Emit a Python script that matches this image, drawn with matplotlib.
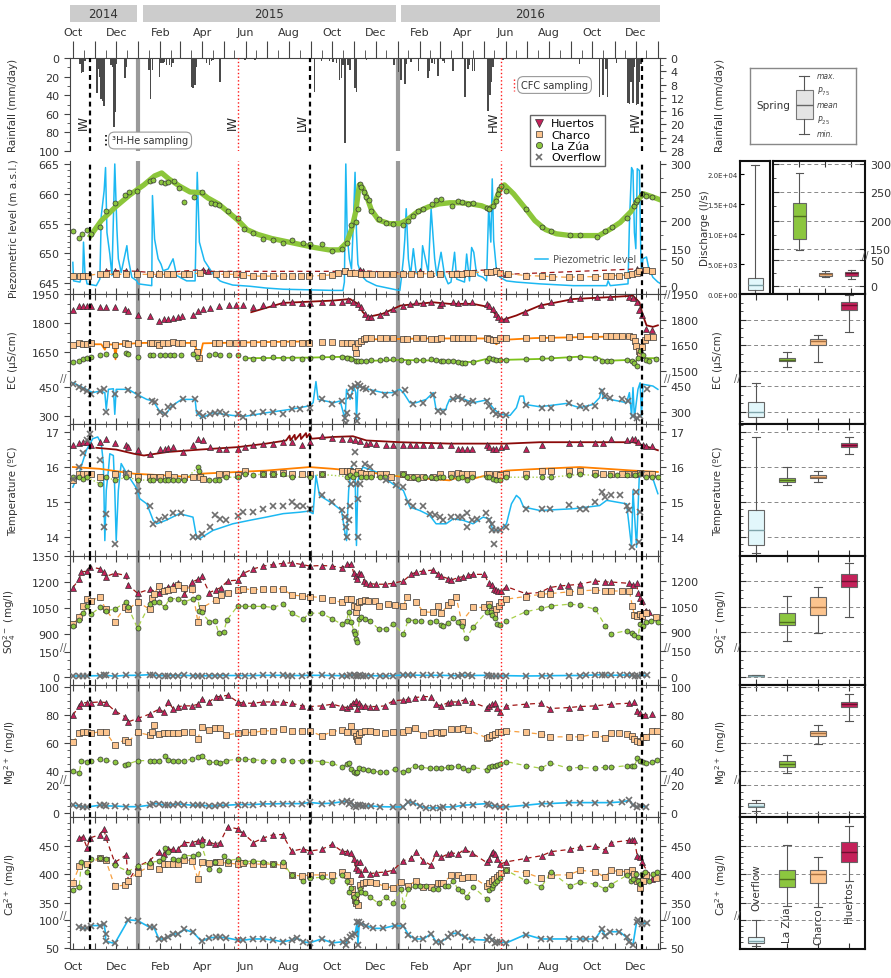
import numpy as np
import pandas as pd
import matplotlib
matplotlib.use('Agg')
import matplotlib.pyplot as plt
import matplotlib.dates as mdates
import matplotlib.transforms as mtransforms
from matplotlib.ticker import FixedLocator, FuncFormatter, NullFormatter
from matplotlib.lines import Line2D

plt.rcParams['font.family'] = ['DejaVu Sans']
plt.rcParams['font.size'] = 8

W, H = 891, 979
t0 = pd.Timestamp('2014-10-01')


def d(x):
    return t0 + pd.to_timedelta(x, unit='D')


# ---------------- data (day = days since 2014-10-01) ----------------
black_days = [24, 333, 800]
red_days = [232, 602]
year_days = [92, 457]
years = [('2014', -4, 90), ('2015', 98, 454), ('2016', 461, 826)]

rain = [(1, 1), (10, 6), (12, 16), (14, 15), (17, 3), (34, 38), (36, 12), (38, 20), (40, 44), (42, 46), (44, 52),
        (54, 8), (56, 10), (58, 74), (59, 58), (61, 6), (73, 22), (75, 10), (91, 1), (98, 1), (107, 13), (109, 44),
        (112, 13), (122, 20), (124, 5), (127, 5), (129, 4), (132, 7), (136, 8), (139, 10), (141, 5), (150, 1),
        (167, 31), (169, 32), (172, 29), (174, 10), (188, 5), (192, 7), (195, 3), (197, 2), (207, 26), (242, 2),
        (256, 2), (312, 1), (340, 37), (350, 3), (361, 3), (366, 4), (371, 5), (375, 24), (378, 22), (380, 8),
        (383, 91), (387, 8), (390, 13), (397, 32), (399, 37), (406, 1), (413, 2), (427, 1), (439, 1), (452, 8),
        (458, 15), (462, 24), (467, 28), (469, 6), (476, 4), (486, 14), (500, 22), (502, 14), (505, 5), (509, 6),
        (514, 19), (521, 3), (523, 5), (535, 14), (552, 42), (556, 12), (558, 8), (562, 14), (565, 14), (584, 57),
        (587, 40), (589, 26), (591, 10), (605, 2), (713, 6), (741, 42), (746, 40), (750, 12), (752, 42), (765, 5),
        (781, 48), (783, 49), (785, 26), (788, 48), (790, 10), (793, 51), (795, 49), (797, 26), (799, 6), (807, 1)]

# piezometric level (m a.s.l.)
zua_piezo = [(0, 653.7), (9, 652.6), (13, 653.2), (20, 654.0), (25, 653.2), (38, 654.4), (47, 657.2), (59, 658.5),
             (74, 659.8), (79, 660.3), (90, 660.5), (109, 662.1), (113, 662.3), (124, 661.9), (129, 661.8),
             (134, 661.9), (142, 662.2), (149, 660.9), (157, 658.7), (171, 659.4), (181, 660.3), (194, 658.4),
             (200, 658.3), (206, 658.2), (218, 657.1), (232, 655.9), (241, 654.1), (254, 653.4), (268, 652.5),
             (282, 652.3), (295, 651.8), (308, 652.3), (324, 651.7), (333, 651.6), (350, 651.6), (365, 650.4),
             (378, 650.8), (385, 651.8), (392, 654.7), (398, 655.3), (401, 657.5), (404, 661.6), (406, 661.1),
             (409, 660.3), (413, 659.4), (417, 659.0), (420, 657.2), (430, 655.8), (440, 655.1), (450, 654.9),
             (465, 654.7), (471, 655.5), (479, 656.2), (486, 657.2), (493, 657.5), (505, 658.3), (511, 658.9),
             (518, 659.1), (534, 658.0), (542, 658.8), (548, 658.7), (556, 658.3), (563, 658.5), (582, 657.7),
             (586, 657.4), (591, 658.0), (595, 658.8), (598, 660.0), (600, 660.8), (603, 661.3), (610, 660.5),
             (637, 657.5), (660, 654.4), (673, 653.8), (699, 653.1), (714, 653.1), (737, 652.8), (749, 653.8),
             (759, 654.5), (779, 655.9), (790, 658.0), (792, 658.6), (794, 659.0), (800, 660.0), (807, 659.6),
             (815, 659.4)]
zua_piezo_line = [(25, 653.0), (40, 655.5), (60, 657.8), (80, 659.8), (100, 661.5), (115, 663.0), (125, 663.5),
                  (135, 662.5), (150, 661.3), (165, 660.3), (180, 660.2), (190, 659.3), (205, 658.3), (220, 656.8),
                  (232, 655.6), (245, 654.0), (260, 653.2), (280, 652.5), (300, 652.0), (320, 651.5), (340, 651.0),
                  (360, 650.6), (375, 650.6), (385, 651.8), (392, 654.0), (398, 657.0), (403, 661.5), (408, 661.0),
                  (415, 659.0), (420, 657.3), (430, 655.6), (445, 655.0), (460, 655.0), (470, 655.6), (485, 657.0),
                  (500, 657.8), (515, 658.3), (530, 658.5), (545, 658.5), (560, 658.3), (575, 658.0), (585, 657.5),
                  (592, 658.0), (600, 660.5), (607, 661.5), (620, 660.0), (635, 657.8), (650, 655.5), (665, 654.0),
                  (680, 653.3), (700, 653.0), (720, 653.0), (740, 653.0), (755, 654.0), (770, 655.2), (785, 657.0),
                  (795, 659.0), (803, 660.0), (815, 659.5), (826, 659.0)]
hu_piezo = [(46, 647.1), (59, 647.1), (75, 647.1), (90, 647.0), (120, 646.7), (183, 647.3), (190, 647.0),
            (385, 647.0), (404, 647.3), (408, 647.1), (465, 646.7), (488, 647.0), (504, 646.8), (595, 647.3),
            (610, 646.5), (793, 647.4), (802, 647.3)]
ch_piezo = [(0, 646.3), (10, 646.2), (14, 646.3), (21, 646.3), (38, 646.6), (47, 646.5), (61, 646.5), (75, 646.5),
            (90, 646.5), (108, 646.5), (121, 646.5), (132, 646.5), (141, 646.5), (157, 646.6), (164, 646.6),
            (179, 646.7), (202, 646.5), (216, 646.5), (230, 646.5), (239, 646.4), (254, 646.2), (268, 646.2),
            (282, 646.2), (295, 646.2), (308, 646.2), (321, 646.2), (332, 646.2), (350, 646.3), (364, 646.4),
            (373, 646.8), (383, 647.0), (390, 646.8), (397, 646.7), (406, 646.6), (413, 646.5), (421, 646.5),
            (432, 646.5), (441, 646.5), (450, 646.5), (465, 646.6), (476, 646.6), (488, 646.6), (502, 646.6),
            (516, 646.6), (533, 646.6), (540, 646.6), (547, 646.6), (554, 646.7), (561, 646.8), (582, 646.9),
            (588, 646.9), (595, 647.0), (601, 646.8), (612, 646.6), (637, 646.3), (660, 646.2), (674, 646.1),
            (698, 646.0), (713, 646.1), (735, 646.1), (750, 646.2), (757, 646.3), (769, 646.3), (779, 646.4),
            (786, 646.6), (793, 646.8), (797, 647.1), (807, 647.3), (815, 647.1)]
blue_piezo = [(0, 648.5), (1, 645.4), (10, 645.2), (14, 646.8), (15, 651.9), (17, 646.8), (20, 644.9), (33, 644.6),
              (38, 645.7), (40, 656.3), (44, 660.5), (46, 664.4), (48, 653.5), (52, 649.9), (55, 646.3), (59, 665.0),
              (62, 654.1), (64, 649.1), (68, 646.8), (76, 651.3), (78, 649.1), (83, 646.0), (90, 645.4), (92, 644.9),
              (111, 644.6), (112, 659.7), (115, 652.4), (120, 649.1), (124, 648.2), (127, 647.1), (134, 647.4),
              (141, 649.1), (146, 646.3), (160, 645.4), (172, 645.4), (175, 663.6), (178, 651.9), (185, 648.8),
              (197, 646.6), (207, 645.4), (211, 645.2), (225, 644.7), (249, 644.5), (272, 644.2), (296, 644.0),
              (333, 643.9), (366, 643.8), (380, 643.8), (382, 645.2), (384, 665.0), (386, 653.0), (389, 649.1),
              (392, 647.4), (395, 656.3), (397, 663.6), (399, 653.5), (401, 648.2), (406, 646.3), (413, 645.4),
              (427, 644.6), (455, 643.9), (460, 643.8), (462, 645.7), (465, 649.1), (467, 652.4), (469, 657.5),
              (472, 649.1), (475, 646.3), (479, 650.8), (483, 646.8), (490, 646.3), (492, 651.3), (500, 646.8),
              (504, 657.5), (509, 649.1), (512, 646.3), (518, 650.2), (523, 646.3), (528, 644.9), (532, 645.2),
              (537, 650.2), (540, 645.7), (551, 645.2), (554, 649.9), (558, 645.4), (561, 651.0), (564, 650.2),
              (567, 647.4), (570, 646.3), (577, 646.0), (582, 645.4), (585, 657.7), (588, 651.9), (590, 662.5),
              (592, 652.2), (596, 647.1), (601, 646.0), (610, 645.4), (624, 645.2), (657, 644.9), (704, 644.6),
              (751, 644.6), (753, 645.4), (756, 644.6), (781, 644.9), (783, 655.2), (786, 664.4), (788, 663.9),
              (790, 653.5), (792, 650.8), (794, 664.2), (797, 663.9), (799, 650.2), (800, 646.8), (802, 649.1),
              (807, 649.4), (810, 647.6), (816, 646.0), (823, 645.2), (826, 645.0)]

# EC (uS/cm)
hu_ec = [(0, 1865), (9, 1890), (14, 1890), (20, 1887), (26, 1887), (38, 1882), (46, 1882), (59, 1882), (73, 1870),
         (78, 1861), (91, 1839), (108, 1836), (121, 1810), (128, 1819), (134, 1822), (141, 1826), (148, 1831),
         (154, 1836), (169, 1843), (176, 1860), (183, 1873), (193, 1878), (205, 1887), (219, 1895), (230, 1894),
         (240, 1894), (254, 1882), (268, 1894), (282, 1899), (296, 1907), (309, 1911), (322, 1904), (333, 1904),
         (350, 1911), (365, 1911), (378, 1911), (387, 1919), (394, 1907), (401, 1899), (406, 1882), (411, 1848),
         (415, 1831), (420, 1831), (432, 1839), (441, 1856), (450, 1870), (465, 1890), (474, 1899), (483, 1907),
         (493, 1904), (504, 1911), (516, 1894), (519, 1904), (535, 1911), (542, 1904), (551, 1911), (561, 1911),
         (582, 1899), (586, 1890), (591, 1873), (595, 1848), (598, 1831), (602, 1819), (610, 1819), (636, 1856),
         (659, 1894), (673, 1907), (699, 1924), (714, 1928), (737, 1933), (756, 1933), (783, 1933), (788, 1928),
         (793, 1907), (797, 1865), (800, 1839), (807, 1771), (815, 1763)]
hu_ec_line = [(251, 1856), (296, 1904), (366, 1916), (390, 1924), (401, 1899), (408, 1856), (415, 1831),
              (436, 1848), (461, 1890), (507, 1907), (530, 1899), (563, 1899), (586, 1882), (596, 1839),
              (603, 1814), (624, 1839), (657, 1890), (704, 1924), (751, 1933), (788, 1941), (797, 1907),
              (802, 1839), (807, 1788), (816, 1780), (823, 1788)]
ch_ec = [(0, 1686), (9, 1694), (14, 1691), (20, 1689), (26, 1694), (46, 1689), (59, 1686), (73, 1694), (78, 1689),
         (91, 1698), (108, 1698), (112, 1694), (118, 1694), (121, 1686), (127, 1694), (134, 1699), (141, 1703),
         (148, 1694), (154, 1694), (169, 1698), (175, 1652), (178, 1621), (200, 1694), (206, 1694), (219, 1699),
         (230, 1698), (240, 1698), (254, 1698), (268, 1698), (282, 1699), (295, 1694), (309, 1699), (322, 1699),
         (332, 1699), (350, 1703), (364, 1703), (378, 1694), (385, 1694), (392, 1694), (397, 1677), (399, 1643),
         (401, 1694), (405, 1706), (409, 1716), (413, 1720), (420, 1720), (432, 1720), (441, 1720), (450, 1720),
         (465, 1716), (470, 1716), (483, 1723), (493, 1720), (504, 1716), (512, 1716), (518, 1723), (535, 1723),
         (542, 1723), (548, 1723), (556, 1720), (563, 1720), (582, 1720), (586, 1716), (591, 1711), (595, 1711),
         (601, 1720), (610, 1720), (637, 1723), (660, 1723), (673, 1723), (698, 1728), (713, 1733), (735, 1733),
         (750, 1733), (757, 1733), (764, 1733), (772, 1733), (783, 1733), (788, 1728), (791, 1706), (792, 1682),
         (796, 1655), (798, 1635), (800, 1677), (805, 1711), (808, 1728), (816, 1728)]
ch_ec_line = [(0, 1690), (40, 1690), (45, 1662), (48, 1690), (58, 1688), (60, 1612), (62, 1690), (100, 1697),
              (170, 1697), (175, 1655), (179, 1628), (183, 1695), (250, 1700), (333, 1705), (334, np.nan),
              (397, 1650), (402, 1700), (410, 1715), (500, 1720), (582, 1720), (590, 1705), (596, 1690),
              (602, 1712), (650, 1722), (760, 1730), (788, 1730), (792, 1690), (796, 1640), (798, 1630),
              (800, 1660), (803, 1700)]
zua_ec = [(0, 1597), (9, 1604), (14, 1614), (20, 1618), (26, 1626), (38, 1635), (46, 1638), (59, 1635), (75, 1646),
          (78, 1640), (91, 1623), (108, 1635), (113, 1632), (122, 1632), (129, 1632), (136, 1632), (143, 1635),
          (152, 1635), (169, 1638), (175, 1626), (192, 1632), (200, 1638), (207, 1635), (219, 1635), (232, 1635),
          (242, 1618), (254, 1614), (268, 1618), (282, 1623), (295, 1618), (309, 1618), (322, 1614), (333, 1618),
          (350, 1623), (364, 1626), (378, 1626), (385, 1621), (392, 1614), (398, 1601), (401, 1604), (406, 1604),
          (413, 1604), (420, 1609), (432, 1609), (441, 1612), (450, 1614), (462, 1609), (471, 1597), (483, 1609),
          (493, 1609), (504, 1614), (511, 1609), (518, 1604), (521, 1604), (528, 1601), (535, 1601), (542, 1597),
          (548, 1592), (551, 1592), (563, 1597), (582, 1604), (586, 1618), (591, 1614), (595, 1609), (601, 1609),
          (610, 1609), (637, 1614), (660, 1618), (673, 1618), (698, 1621), (713, 1626), (735, 1621), (744, 1604),
          (751, 1604), (757, 1604), (779, 1609), (786, 1604), (790, 1592), (793, 1580), (795, 1618), (798, 1655),
          (802, 1635), (807, 1609), (811, 1604), (821, 1614)]
zua_ec_line = [(247, 1618), (333, 1621), (390, 1626), (398, 1609), (404, 1601), (413, 1604), (460, 1609),
               (530, 1604), (563, 1597), (586, 1618), (603, 1609), (657, 1614), (714, 1626), (741, 1618),
               (746, 1604), (783, 1609), (790, 1584), (795, 1626), (800, 1635), (805, 1618), (823, 1618)]
ov_ec = [(0, 464), (9, 452), (14, 441), (20, 429), (26, 412), (38, 429), (44, 438), (47, 321), (59, 412), (78, 433),
         (91, 407), (112, 378), (115, 372), (122, 321), (129, 309), (134, 348), (141, 352), (155, 386), (172, 386),
         (178, 317), (183, 300), (193, 309), (200, 317), (207, 321), (216, 309), (232, 309), (239, 295), (254, 317),
         (268, 321), (282, 321), (295, 309), (308, 334), (319, 338), (333, 343), (350, 386), (365, 360), (378, 378),
         (383, 291), (384, 266), (386, 317), (390, 403), (392, 447), (397, 455), (400, 300), (400, 274), (401, 464),
         (404, 455), (408, 447), (413, 438), (422, 424), (439, 407), (453, 421), (467, 434), (479, 360), (493, 369),
         (507, 407), (514, 326), (521, 321), (535, 386), (542, 400), (548, 390), (556, 369), (563, 378), (582, 378),
         (586, 352), (591, 326), (595, 309), (601, 303), (610, 303), (637, 355), (660, 343), (673, 343), (698, 369),
         (713, 352), (722, 343), (735, 352), (744, 429), (749, 403), (756, 395), (772, 386), (781, 378), (788, 300),
         (793, 291), (798, 300), (808, 441)]
ov_ec_line = [(0, 472), (14, 447), (28, 421), (38, 429), (45, 421), (47, 334), (50, 438), (57, 441), (59, 309),
              (61, 438), (78, 438), (90, 412), (104, 386), (113, 378), (122, 326), (131, 309), (139, 352),
              (153, 386), (172, 386), (174, 317), (181, 291), (197, 317), (225, 303), (244, 300), (272, 317),
              (305, 334), (332, 352), (338, 369), (342, 478), (345, 386), (367, 369), (376, 378), (383, 283),
              (385, 438), (390, 386), (395, 455), (398, 421), (399, 283), (401, 455), (413, 441), (436, 421),
              (450, 421), (460, 438), (465, 421), (474, 369), (483, 369), (497, 386), (507, 421), (511, 334),
              (525, 334), (526, 352), (530, 386), (545, 395), (563, 369), (582, 383), (593, 334), (601, 309),
              (615, 303), (624, 343), (629, 403), (634, 403), (636, 360), (657, 348), (694, 365), (713, 343),
              (732, 360), (741, 395), (744, 438), (746, 395), (756, 386), (779, 369), (783, 421), (786, 300),
              (788, 447), (790, 291), (795, 438), (798, 472), (800, 300), (802, 464), (816, 455), (823, 438)]

# temperature (C)
hu_t = [(0, 16.62), (9, 16.69), (14, 16.71), (20, 16.71), (26, 16.62), (38, 16.71), (46, 16.81), (59, 16.69),
        (75, 16.62), (78, 16.57), (91, 16.50), (108, 16.38), (122, 16.52), (129, 16.52), (134, 16.55), (141, 16.57),
        (155, 16.43), (169, 16.62), (176, 16.81), (183, 16.76), (193, 16.57), (205, 16.52), (216, 16.52),
        (232, 16.52), (242, 16.57), (254, 16.62), (268, 16.67), (282, 16.67), (296, 16.71), (309, 16.71),
        (322, 16.62), (333, 16.71), (350, 16.90), (365, 16.84), (378, 16.81), (390, 16.81), (397, 16.76),
        (404, 16.74), (413, 16.67), (418, 16.69), (427, 16.67), (441, 16.62), (450, 16.62), (465, 16.62),
        (474, 16.62), (483, 16.62), (493, 16.62), (504, 16.62), (516, 16.62), (532, 16.62), (542, 16.52),
        (548, 16.52), (554, 16.52), (561, 16.52), (582, 16.62), (586, 16.57), (591, 16.52), (595, 16.52),
        (602, 16.57), (610, 16.59), (637, 16.52), (660, 16.62), (698, 16.69), (713, 16.69), (735, 16.69),
        (746, 16.69), (757, 16.81), (779, 16.76), (786, 16.81), (791, 16.81), (795, 16.71), (802, 16.62),
        (807, 16.59), (815, 16.59)]
hu_t_line = [(33, 16.55), (61, 16.50), (86, 16.38), (100, 16.33), (133, 16.43), (179, 16.50), (232, 16.57),
             (272, 16.67), (300, 16.76), (305, 16.9), (306, 16.76), (312, 16.92), (313, 16.78), (320, 16.95),
             (321, 16.8), (328, 16.97), (329, 16.85), (333, 16.95), (336, 16.81), (366, 16.86), (394, 16.88),
             (413, 16.76), (460, 16.71), (530, 16.67), (563, 16.67), (610, 16.67), (657, 16.71), (704, 16.71),
             (751, 16.71), (788, 16.71), (798, 16.65), (823, 16.48)]
ch_t = [(0, 15.62), (9, 15.79), (14, 15.79), (20, 15.79), (26, 15.79), (38, 15.71), (59, 15.79), (75, 15.79),
        (78, 15.79), (91, 15.73), (108, 15.73), (113, 15.73), (122, 15.71), (134, 15.79), (143, 15.71),
        (157, 15.71), (169, 15.71), (179, 15.73), (183, 15.67), (205, 15.79), (216, 15.81), (232, 15.76),
        (242, 15.90), (268, 15.81), (282, 15.79), (296, 15.83), (308, 15.79), (322, 15.79), (333, 15.81),
        (350, 15.81), (378, 15.90), (385, 15.90), (390, 15.90), (394, 15.86), (401, 15.90), (406, 15.83),
        (413, 15.79), (420, 15.79), (432, 15.79), (441, 15.79), (448, 15.73), (465, 15.81), (474, 15.73),
        (483, 15.73), (493, 15.73), (507, 15.73), (516, 15.81), (532, 15.81), (542, 15.83), (548, 15.81),
        (554, 15.81), (561, 15.81), (582, 15.81), (586, 15.81), (595, 15.81), (601, 15.76), (610, 15.81),
        (637, 15.81), (660, 15.90), (673, 15.90), (698, 15.90), (713, 15.90), (735, 15.83), (746, 15.81),
        (757, 15.81), (772, 15.81), (781, 15.81), (791, 15.81), (798, 15.83), (807, 15.81), (815, 15.81)]
ch_t_line = [(0, 16.0), (38, 15.95), (86, 15.81), (131, 15.76), (169, 15.71), (179, 15.81), (232, 15.86),
             (272, 15.90), (333, 16.0), (366, 15.95), (413, 15.86), (460, 15.73), (530, 15.62), (535, 15.67),
             (563, 15.67), (610, 15.90), (657, 15.95), (713, 16.0), (751, 15.95), (788, 15.90), (823, 15.86)]
zua_t = [(0, 15.71), (9, 15.71), (14, 15.67), (20, 15.71), (38, 15.52), (46, 15.73), (59, 15.62), (75, 15.71),
         (91, 15.64), (108, 15.62), (113, 15.62), (122, 15.62), (129, 15.62), (134, 15.62), (141, 15.64),
         (148, 15.62), (157, 15.62), (176, 16.0), (178, 15.90), (192, 15.62), (200, 15.62), (205, 15.64),
         (216, 15.71), (232, 15.71), (242, 15.81), (254, 15.76), (268, 15.81), (282, 15.79), (296, 15.79),
         (308, 15.71), (333, 15.73), (350, 15.79), (385, 15.73), (390, 15.76), (394, 15.71), (399, 15.81),
         (406, 15.73), (413, 15.71), (420, 15.71), (432, 15.71), (439, 15.71), (465, 15.79), (470, 15.71),
         (479, 15.71), (486, 15.67), (495, 15.71), (504, 15.71), (511, 15.69), (516, 15.73), (521, 15.73),
         (532, 15.71), (542, 15.69), (548, 15.71), (554, 15.62), (561, 15.71), (582, 15.73), (586, 15.71),
         (591, 15.67), (595, 15.62), (601, 15.62), (610, 15.71), (637, 15.71), (660, 15.71), (673, 15.71),
         (698, 15.76), (713, 15.79), (735, 15.76), (756, 15.76), (765, 15.76), (779, 15.76), (791, 15.76),
         (798, 15.81), (807, 15.73), (815, 15.73), (823, 15.73)]
ov_t = [(0, 15.67), (9, 16.0), (14, 16.40), (20, 16.76), (24, 16.95), (38, 16.19), (44, 14.29), (46, 14.67),
        (59, 13.81), (75, 15.83), (91, 15.33), (108, 14.90), (113, 14.38), (121, 14.48), (129, 14.57), (141, 14.69),
        (152, 14.69), (169, 14.0), (176, 14.0), (181, 14.10), (193, 14.29), (200, 14.62), (207, 14.52),
        (216, 14.48), (232, 14.59), (239, 14.71), (254, 14.71), (268, 14.81), (282, 14.90), (295, 14.90),
        (308, 15.0), (316, 14.90), (324, 14.90), (333, 14.81), (350, 15.19), (365, 15.0), (378, 14.78),
        (383, 14.57), (384, 14.29), (385, 14.0), (388, 14.48), (390, 14.90), (392, 15.52), (395, 16.10),
        (397, 16.43), (399, 15.52), (401, 15.10), (401, 14.0), (404, 15.52), (411, 16.10), (418, 16.0),
        (441, 15.62), (455, 15.48), (465, 15.43), (471, 15.0), (479, 14.90), (493, 14.90), (502, 14.67),
        (509, 14.62), (516, 14.57), (521, 14.48), (532, 14.57), (542, 14.57), (548, 14.57), (554, 14.69),
        (554, 14.29), (561, 14.48), (568, 14.52), (581, 14.69), (586, 14.48), (589, 14.38), (590, 14.19),
        (592, 13.81), (595, 14.19), (601, 14.19), (610, 14.29), (637, 14.81), (660, 14.81), (671, 14.81),
        (698, 14.92), (713, 14.81), (722, 14.81), (735, 15.0), (744, 15.29), (749, 15.14), (757, 15.19),
        (770, 15.19), (779, 14.90), (783, 14.78), (787, 13.71), (792, 15.29), (797, 13.86), (798, 14.71),
        (800, 15.81)]
ov_t_line = [(0, 15.43), (10, 15.90), (19, 16.48), (28, 16.81), (35, 16.86), (40, 16.67), (43, 16.10), (45, 13.90),
             (47, 15.33), (50, 15.90), (52, 16.38), (57, 16.33), (59, 15.33), (61, 13.90), (64, 15.33),
             (68, 16.10), (76, 15.81), (90, 15.38), (94, 15.10), (104, 14.95), (113, 14.48), (118, 14.38),
             (131, 14.48), (150, 14.67), (169, 14.57), (174, 14.0), (178, 13.95), (197, 14.19), (225, 14.38),
             (249, 14.48), (272, 14.57), (296, 14.67), (319, 14.71), (331, 14.74), (338, 14.67), (342, 15.76),
             (347, 15.19), (366, 14.95), (378, 14.76), (383, 14.10), (385, 13.90), (388, 15.33), (392, 16.0),
             (397, 15.81), (399, 13.76), (401, 15.62), (408, 16.0), (427, 15.86), (450, 15.52), (465, 15.33),
             (474, 14.86), (488, 14.76), (502, 14.62), (511, 14.38), (525, 14.38), (535, 14.52), (549, 14.48),
             (563, 14.38), (577, 14.57), (586, 14.52), (591, 14.19), (601, 14.19), (610, 14.38), (617, 14.95),
             (624, 15.19), (629, 15.10), (634, 14.86), (657, 14.76), (704, 14.81), (741, 14.90), (751, 15.05),
             (779, 14.95), (786, 13.71), (788, 15.33), (793, 13.71), (797, 15.81), (805, 15.81), (816, 15.67),
             (823, 15.24)]

# SO4 (mg/l)
hu_so4 = [(0, 1168), (9, 1215), (12, 1257), (20, 1263), (24, 1288), (38, 1276), (44, 1257), (46, 1231), (59, 1250),
          (75, 1238), (78, 1181), (91, 1135), (108, 1158), (121, 1139), (128, 1154), (134, 1173), (141, 1181),
          (148, 1192), (157, 1129), (168, 1200), (176, 1215), (181, 1234), (192, 1139), (201, 1154), (208, 1168),
          (218, 1206), (232, 1211), (240, 1250), (254, 1276), (268, 1292), (282, 1301), (295, 1307), (308, 1311),
          (322, 1301), (333, 1292), (350, 1295), (365, 1292), (378, 1282), (385, 1301), (392, 1301), (395, 1253),
          (398, 1234), (400, 1215), (403, 1253), (406, 1244), (410, 1206), (413, 1196), (418, 1190), (427, 1187),
          (439, 1187), (450, 1192), (465, 1206), (476, 1244), (483, 1257), (493, 1263), (507, 1269), (514, 1244),
          (518, 1234), (528, 1219), (532, 1211), (542, 1225), (549, 1231), (556, 1238), (563, 1244), (579, 1244),
          (585, 1192), (589, 1181), (592, 1162), (595, 1154), (598, 1148), (603, 1148), (610, 1173), (637, 1133),
          (657, 1139), (671, 1168), (685, 1177), (697, 1181), (713, 1187), (735, 1206), (748, 1200), (757, 1200),
          (783, 1192), (788, 1181), (793, 1192), (795, 1139), (798, 1110), (800, 1091), (807, 1034), (811, 1024)]
ch_so4 = [(0, 957), (9, 996), (14, 1062), (20, 1104), (26, 1091), (38, 1116), (46, 1043), (59, 971), (73, 1053),
          (78, 1043), (91, 1085), (108, 1043), (111, 1110), (114, 1129), (121, 1177), (128, 1148), (134, 1154),
          (141, 1162), (148, 1181), (157, 1168), (168, 1162), (176, 967), (181, 1049), (201, 1097), (208, 1124),
          (218, 1139), (232, 1154), (240, 1162), (254, 1154), (268, 1162), (282, 1158), (295, 1162), (308, 1124),
          (322, 1120), (333, 1116), (350, 1110), (365, 1097), (378, 1082), (385, 1104), (392, 1104), (395, 1062),
          (398, 1028), (400, 1053), (403, 1082), (406, 1091), (411, 1095), (415, 1091), (425, 1091), (430, 1062),
          (444, 1072), (453, 1066), (465, 1059), (470, 1116), (483, 1082), (493, 1028), (507, 1024), (514, 1062),
          (518, 1020), (528, 1066), (532, 1082), (539, 1116), (547, 971), (563, 1053), (579, 1053), (586, 1072),
          (590, 1034), (592, 1015), (595, 1043), (599, 1062), (603, 1085), (610, 1101), (637, 1116), (659, 1129),
          (671, 1133), (698, 1143), (713, 1148), (735, 1154), (748, 1148), (757, 1148), (772, 1148), (783, 1148),
          (787, 1062), (790, 1009), (793, 1005), (798, 1015), (801, 1005), (807, 1020), (821, 996)]
zua_so4 = [(0, 944), (9, 982), (14, 1020), (20, 1059), (26, 1015), (38, 1053), (46, 1034), (59, 1043), (75, 1085),
           (78, 1053), (91, 933), (108, 1072), (114, 1082), (121, 1085), (129, 1053), (136, 1104), (148, 1104),
           (157, 1085), (169, 1104), (176, 1116), (178, 1034), (181, 1024), (192, 971), (200, 977), (205, 906),
           (212, 910), (217, 982), (232, 1062), (242, 1059), (254, 1059), (268, 1059), (282, 1053), (295, 1072),
           (308, 1020), (324, 986), (333, 1020), (350, 1020), (365, 986), (378, 957), (385, 977), (388, 1024),
           (392, 967), (395, 919), (397, 900), (398, 871), (400, 852), (403, 986), (406, 996), (411, 986),
           (418, 977), (430, 929), (441, 929), (450, 957), (465, 900), (472, 982), (481, 977), (490, 977),
           (502, 971), (511, 977), (518, 952), (521, 948), (528, 963), (535, 990), (542, 971), (548, 948),
           (553, 875), (563, 938), (582, 1028), (585, 1062), (588, 1024), (590, 1009), (594, 990), (597, 957),
           (601, 952), (610, 977), (637, 1028), (659, 1047), (673, 1062), (699, 1072), (713, 1066), (735, 1043),
           (749, 948), (757, 900), (779, 919), (786, 906), (790, 894), (795, 881), (798, 957), (802, 948),
           (807, 967), (814, 977), (823, 967)]
ov_so4 = [(0, 6), (9, 6), (14, 6), (20, 7), (38, 8), (44, 12), (46, 10), (59, 5), (75, 10), (91, 10), (108, 14),
          (113, 12), (121, 8), (129, 8), (134, 9), (141, 9), (148, 9), (157, 10), (169, 8), (176, 8), (181, 7),
          (192, 8), (200, 8), (207, 9), (216, 9), (232, 9), (242, 8), (254, 9), (268, 10), (282, 10), (295, 10),
          (302, 9), (308, 9), (322, 9), (333, 10), (350, 10), (365, 9), (378, 8), (385, 6), (390, 10), (395, 12),
          (398, 7), (401, 5), (404, 10), (408, 9), (413, 9), (420, 8), (432, 7), (441, 6), (450, 8), (465, 12),
          (471, 12), (479, 11), (493, 10), (504, 10), (516, 10), (532, 9), (542, 8), (548, 10), (556, 10), (561, 9),
          (582, 10), (586, 8), (590, 6), (595, 5), (601, 5), (610, 8), (637, 6), (660, 7), (671, 8), (698, 9),
          (713, 9), (722, 10), (735, 12), (744, 13), (749, 12), (757, 10), (770, 11), (779, 12), (786, 10),
          (791, 6), (795, 8), (800, 10), (808, 10)]

# Mg (mg/l)
hu_mg = [(0, 79.8), (9, 86.5), (12, 88.4), (20, 88.9), (26, 88.9), (38, 89.3), (46, 88.9), (59, 82.9), (73, 78.9),
         (78, 75.1), (91, 77.5), (108, 80.6), (121, 84.1), (128, 82.2), (134, 89.3), (141, 84.6), (148, 86.0),
         (157, 86.5), (168, 86.5), (176, 87.7), (181, 91.2), (192, 89.3), (201, 93.1), (207, 93.1), (218, 94.1),
         (232, 89.3), (240, 88.4), (254, 88.4), (268, 89.3), (282, 89.3), (295, 89.3), (308, 88.4), (322, 86.5),
         (333, 86.0), (350, 86.5), (365, 87.7), (378, 86.0), (385, 85.3), (390, 86.5), (394, 88.9), (398, 90.0),
         (400, 84.6), (403, 88.9), (406, 86.5), (411, 86.5), (418, 86.0), (427, 86.0), (439, 86.5), (450, 90.0),
         (465, 90.8), (472, 91.2), (481, 92.4), (493, 93.1), (504, 93.1), (511, 87.7), (518, 86.5), (528, 88.9),
         (532, 89.3), (542, 89.3), (551, 90.8), (561, 89.3), (582, 85.3), (586, 86.5), (590, 87.7), (594, 88.4),
         (597, 85.3), (601, 82.2), (610, 86.5), (637, 87.7), (659, 88.4), (671, 84.6), (698, 85.3), (713, 86.0),
         (735, 86.5), (757, 87.7), (783, 88.4), (790, 89.3), (794, 82.9), (798, 81.3), (805, 79.8), (815, 80.6)]
ch_mg = [(0, 60.4), (9, 67.0), (14, 67.5), (20, 67.5), (26, 67.0), (38, 68.0), (46, 68.0), (59, 58.5), (73, 62.3),
         (78, 60.9), (91, 67.5), (108, 65.6), (111, 68.0), (114, 72.7), (121, 66.3), (128, 67.0), (134, 67.0),
         (141, 67.0), (148, 67.0), (157, 68.0), (168, 68.0), (176, 63.2), (181, 71.1), (192, 69.4), (200, 70.4),
         (207, 70.4), (216, 65.6), (232, 67.0), (242, 67.5), (254, 67.5), (268, 68.7), (282, 68.7), (295, 69.9),
         (308, 68.7), (322, 68.7), (333, 68.7), (350, 65.1), (365, 68.0), (378, 69.4), (385, 68.0), (392, 72.3),
         (395, 68.0), (398, 65.1), (400, 62.8), (401, 61.6), (403, 66.3), (406, 67.5), (411, 68.7), (418, 68.7),
         (427, 68.0), (439, 67.0), (450, 68.0), (465, 67.5), (472, 69.4), (481, 70.4), (493, 65.6), (504, 67.0),
         (511, 67.5), (518, 67.0), (521, 67.5), (532, 69.9), (542, 69.9), (549, 70.4), (556, 69.4), (582, 63.7),
         (586, 64.4), (590, 65.6), (594, 66.3), (598, 67.5), (603, 68.0), (610, 68.7), (637, 67.5), (659, 66.3),
         (671, 64.4), (698, 64.4), (713, 64.4), (735, 66.3), (748, 63.7), (757, 67.0), (769, 67.0), (779, 66.3),
         (786, 65.1), (790, 63.2), (794, 61.6), (798, 60.9), (802, 64.4), (807, 64.4), (815, 68.7), (822, 68.7)]
zua_mg = [(0, 40.0), (9, 38.6), (12, 47.4), (20, 46.7), (26, 47.4), (38, 48.5), (46, 47.8), (59, 46.2), (73, 44.3),
          (78, 45.0), (91, 47.4), (108, 47.4), (114, 47.4), (121, 47.4), (129, 50.9), (134, 48.1), (141, 47.4),
          (148, 47.4), (157, 47.4), (168, 48.5), (176, 49.7), (181, 50.9), (192, 46.2), (201, 46.2), (207, 45.7),
          (216, 47.4), (232, 48.5), (242, 48.5), (254, 48.1), (268, 47.4), (282, 47.4), (295, 47.8), (308, 47.4),
          (322, 47.4), (333, 47.4), (350, 46.7), (365, 45.7), (378, 42.6), (385, 45.0), (388, 45.7), (392, 41.4),
          (395, 39.5), (398, 38.6), (400, 39.0), (403, 41.9), (408, 41.4), (415, 40.9), (422, 40.2), (432, 39.0),
          (441, 39.0), (453, 41.4), (465, 39.0), (472, 40.9), (481, 43.8), (490, 42.6), (502, 41.9), (511, 41.9),
          (518, 41.9), (528, 42.6), (532, 42.6), (542, 43.3), (549, 41.9), (556, 40.9), (563, 42.6), (582, 40.9),
          (586, 42.6), (590, 43.3), (594, 43.8), (597, 44.3), (601, 45.0), (610, 46.7), (637, 43.8), (659, 41.9),
          (671, 45.7), (698, 41.9), (713, 42.6), (735, 41.9), (748, 42.6), (757, 42.6), (779, 43.8), (786, 43.8),
          (790, 43.3), (794, 49.0), (798, 47.4), (802, 46.2), (807, 45.7), (815, 46.2), (822, 48.1)]
ov_mg = [(0, 5.5), (9, 5), (14, 4.5), (20, 4.3), (38, 5.5), (44, 5.5), (46, 5), (59, 5), (75, 4.5), (91, 4.5),
         (108, 5.5), (113, 6.7), (121, 6.5), (129, 5.5), (134, 5.5), (141, 6), (148, 6.5), (157, 6), (169, 5.5),
         (176, 5.5), (181, 5.5), (192, 5), (200, 5), (207, 5.5), (216, 5.5), (232, 6), (242, 6), (254, 6),
         (268, 6.5), (282, 6.5), (295, 6.7), (308, 6.7), (322, 6.7), (333, 7.5), (350, 6.7), (365, 7), (378, 8),
         (385, 8.5), (388, 6.5), (392, 7.5), (395, 5), (398, 4.5), (401, 6), (404, 5.5), (408, 5), (413, 5),
         (420, 5), (432, 4.5), (450, 4.3), (465, 4.3), (472, 7.9), (479, 7.4), (488, 5), (497, 3.6), (507, 3.6),
         (516, 3.6), (521, 4.3), (535, 4.3), (549, 5.5), (563, 6.0), (582, 6.7), (586, 5.5), (594, 5), (601, 4.3),
         (610, 4.3), (637, 5.5), (660, 6.7), (671, 6.7), (698, 7.4), (713, 7.4), (735, 7.4), (756, 7.4),
         (772, 7.9), (783, 9.0), (788, 5.5), (793, 4.3), (798, 5), (807, 4.3)]

# Ca (mg/l)
hu_ca = [(9, 464), (14, 466), (20, 447), (24, 464), (38, 470), (44, 480), (46, 466), (59, 421), (75, 434),
         (78, 388), (91, 414), (108, 424), (121, 440), (128, 436), (134, 444), (141, 444), (148, 445), (157, 456),
         (168, 456), (176, 459), (182, 463), (192, 457), (200, 453), (207, 456), (218, 484), (232, 480),
         (240, 472), (254, 456), (268, 464), (282, 470), (295, 470), (308, 441), (324, 445), (333, 441),
         (350, 444), (365, 453), (378, 441), (385, 440), (392, 438), (395, 427), (398, 412), (400, 422),
         (401, 407), (404, 421), (406, 401), (411, 410), (418, 401), (427, 403), (439, 404), (450, 407),
         (465, 424), (476, 428), (483, 440), (493, 424), (504, 416), (511, 438), (518, 430), (528, 436),
         (532, 438), (542, 436), (551, 444), (561, 438), (582, 421), (586, 427), (589, 437), (591, 440),
         (594, 436), (597, 427), (601, 418), (610, 422), (637, 428), (660, 433), (673, 440), (699, 444),
         (713, 448), (735, 450), (748, 443), (757, 456), (783, 460), (787, 460), (790, 460), (794, 433),
         (798, 430), (800, 422), (815, 392)]
ch_ca = [(0, 385), (9, 414), (20, 418), (38, 428), (46, 426), (59, 379), (73, 381), (78, 389), (91, 403), (108, 414),
         (121, 410), (128, 418), (134, 418), (141, 418), (148, 418), (157, 426), (168, 424), (176, 392), (181, 421),
         (192, 420), (201, 422), (207, 421), (218, 420), (232, 418), (240, 420), (254, 418), (268, 418),
         (282, 418), (295, 416), (308, 399), (322, 397), (333, 399), (350, 399), (365, 399), (378, 404),
         (385, 398), (390, 388), (393, 375), (395, 363), (397, 355), (399, 349), (401, 346), (404, 382),
         (408, 384), (413, 386), (418, 386), (427, 384), (439, 379), (450, 376), (462, 386), (471, 379),
         (483, 389), (493, 378), (504, 378), (514, 385), (518, 385), (521, 385), (532, 398), (542, 399),
         (548, 393), (556, 396), (563, 395), (582, 379), (586, 385), (589, 389), (592, 392), (596, 395),
         (600, 398), (603, 403), (610, 407), (637, 403), (659, 393), (673, 399), (698, 399), (713, 407),
         (735, 405), (748, 395), (757, 407), (769, 405), (779, 405), (786, 407), (790, 401), (794, 389),
         (798, 376), (802, 389), (807, 399), (821, 393)]
zua_ca = [(0, 372), (9, 378), (12, 422), (20, 405), (26, 427), (38, 428), (46, 427), (59, 416), (78, 405),
          (91, 415), (108, 420), (121, 424), (127, 428), (129, 447), (134, 440), (141, 427), (148, 426), (157, 433),
          (169, 433), (176, 436), (181, 451), (192, 410), (200, 422), (205, 407), (213, 433), (218, 424),
          (232, 427), (242, 422), (254, 424), (268, 422), (282, 418), (295, 422), (308, 398), (324, 388),
          (333, 393), (350, 395), (365, 389), (378, 398), (385, 388), (388, 369), (392, 376), (395, 360),
          (398, 352), (400, 366), (404, 375), (406, 369), (411, 368), (418, 360), (430, 349), (441, 360),
          (450, 349), (462, 375), (465, 345), (472, 374), (481, 379), (488, 379), (497, 379), (507, 375),
          (514, 374), (523, 379), (528, 379), (535, 388), (542, 374), (548, 370), (554, 360), (563, 378),
          (582, 357), (585, 372), (589, 376), (591, 382), (594, 385), (597, 388), (601, 393), (610, 407),
          (637, 389), (659, 378), (673, 404), (699, 379), (713, 386), (735, 383), (749, 374), (757, 382),
          (779, 398), (785, 389), (788, 392), (792, 401), (795, 389), (798, 383), (800, 401), (805, 405),
          (810, 389), (816, 401), (822, 404)]
ov_ca = [(9, 87), (14, 85), (20, 85), (26, 90), (38, 90), (44, 93), (46, 75), (46, 62), (59, 58), (78, 103),
         (91, 99), (108, 87), (114, 87), (121, 66), (128, 66), (134, 69), (141, 75), (148, 75), (157, 83),
         (169, 78), (181, 62), (192, 68), (201, 69), (207, 69), (216, 68), (232, 64), (240, 64), (254, 66),
         (268, 66), (282, 64), (295, 61), (308, 64), (315, 68), (324, 61), (333, 59), (350, 66), (365, 59),
         (380, 61), (384, 55), (386, 64), (390, 69), (393, 74), (397, 75), (400, 96), (401, 55), (403, 96),
         (406, 93), (413, 90), (422, 85), (436, 85), (453, 90), (465, 89), (472, 74), (481, 66), (493, 66),
         (504, 75), (511, 61), (518, 61), (528, 69), (532, 75), (542, 77), (551, 69), (561, 65), (582, 64),
         (586, 69), (590, 65), (594, 59), (597, 61), (601, 61), (610, 59), (637, 74), (659, 66), (671, 66),
         (698, 66), (713, 66), (722, 66), (735, 66), (744, 83), (749, 72), (756, 79), (769, 79), (779, 69),
         (783, 61), (788, 56), (793, 96), (795, 102), (800, 93), (808, 95)]

# box statistics (min, P25, mean, P75, max); order Overflow, La Zua, Charco, Huertos
box_discharge_over = (200, 600, 1500, 2600, 21500)
box_discharge = [(148, 168, 208, 231, 284), (17, 20, 23, 25, 29), (14, 19, 25, 27, 31)]
box_ec = [(232, 271, 300, 358, 467), (1523, 1558, 1564, 1576, 1611), (1553, 1652, 1675, 1687, 1710),
          (1728, 1856, 1886, 1903, 1944)]
box_temp = [(13.55, 13.77, 14.2, 14.77, 16.86), (15.48, 15.58, 15.64, 15.7, 16.0), (15.58, 15.68, 15.73, 15.77, 15.88),
            (16.37, 16.57, 16.63, 16.68, 16.86)]
box_so4 = [(3, 5, 7, 9, 12), (848, 940, 962, 1015, 1115), (895, 1000, 1050, 1105, 1165), (990, 1165, 1200, 1245, 1310)]
box_mg = [(1.5, 4.3, 5, 7, 9.3), (38.6, 42.9, 45, 47, 51.4), (59.3, 65, 67, 68.6, 72.9), (75.7, 85.7, 87.8, 89.3, 95)]
box_ca = [(54, 59, 62, 70, 104), (345, 378, 391, 408, 452), (343, 385, 400, 407, 430), (388, 422, 440, 457, 485)]
box_names = ['Overflow', 'La Zúa', 'Charco', 'Huertos']

# ---------------- style ----------------
c_hu, c_ch, c_zua = '#c4215a', '#fcc48e', '#8cc63f'
c_hu_l, c_ch_l, c_zua_l, c_blue = '#8b0a0a', '#ff8000', '#7cc21a', '#1cb8f2'
c_over = '#6e6e6e'
box_face = ['#e2f7fb', c_zua, c_ch, c_hu]
box_med = ['#7fa4aa', '#4f6d1f', '#a87040', '#6e0f30']

fig = plt.figure(figsize=(W / 100, H / 100), dpi=100)


def px_axes(x0, y0, x1, y1):
    return fig.add_axes([x0 / W, 1 - y1 / H, (x1 - x0) / W, (y1 - y0) / H])


def make_scale(anchors):
    v = np.array([a[0] for a in anchors], float)
    p = -np.array([a[1] for a in anchors], float)
    return (lambda x: np.interp(x, v, p)), (lambda y: np.interp(y, p, v))


def set_y(ax, anchors, majors, minors):
    ax.set_yscale('function', functions=make_scale(anchors))
    ax.set_ylim(anchors[0][0], anchors[-1][0])
    ax.yaxis.set_major_locator(FixedLocator(majors))
    ax.yaxis.set_minor_locator(FixedLocator(minors))
    ax.yaxis.set_major_formatter(FuncFormatter(lambda v, p: f'{v:g}'))
    ax.yaxis.set_minor_formatter(NullFormatter())


def month_fmt(x, pos):
    dt = mdates.num2date(x)
    return dt.strftime('%b') if dt.month % 2 == 0 else ''


def style_main(ax):
    ax.set_xlim(d(-4), d(826))
    ax.xaxis.set_major_locator(mdates.MonthLocator())
    ax.xaxis.set_minor_locator(mdates.MonthLocator(bymonthday=16))
    ax.xaxis.set_major_formatter(FuncFormatter(month_fmt))
    ax.tick_params(axis='x', which='both', direction='in', top=True, bottom=True,
                   labelbottom=False, labeltop=False, color='#444', labelsize=8, labelcolor='#333')
    ax.tick_params(axis='x', which='major', length=4.5)
    ax.tick_params(axis='x', which='minor', length=2.5)
    ax.tick_params(axis='y', which='both', direction='out', labelsize=8, color='#444', labelcolor='#333')
    ax.tick_params(axis='y', which='major', length=4)
    ax.tick_params(axis='y', which='minor', length=2)
    for s in ax.spines.values():
        s.set_color('#444')
        s.set_linewidth(0.8)
    for x in year_days:
        ax.axvline(d(x), color='#9a9a9a', lw=3, zorder=0.5)
    for x in black_days:
        ax.axvline(d(x), color='k', lw=1.6, ls=(0, (2.2, 1.8)), zorder=6)
    for x in red_days:
        ax.axvline(d(x), color='#ff1a1a', lw=1.0, ls=':', zorder=6)


def right_axis(ax, anchors, majors, minors, label, lx=1.09):
    axr = ax.twinx()
    set_y(axr, anchors, majors, minors)
    axr.tick_params(axis='y', which='both', direction='out', labelsize=8, color='#444', labelcolor='#333')
    axr.tick_params(axis='y', which='major', length=4)
    axr.tick_params(axis='y', which='minor', length=2)
    for s in axr.spines.values():
        s.set_visible(False)
    axr.set_ylabel(label, fontsize=7.5, color='#333')
    axr.yaxis.set_label_coords(lx, 0.5)
    return axr


def left_label(ax, label):
    ax.set_ylabel(label, fontsize=7.5, color='#333')
    ax.yaxis.set_label_coords(-0.088, 0.5)


def brk_mark(ax, yval, xfrac):
    tr = mtransforms.blended_transform_factory(ax.transAxes, ax.transData)
    ax.text(xfrac, yval, '//', transform=tr, ha='center', va='center', fontsize=7,
            color='#555', clip_on=False, zorder=10)


def pts(series):
    arr = np.array(series, float)
    return d(arr[:, 0]), arr[:, 1]


def mk(ax, series, kind, line=None):
    x, y = pts(series)
    if line is not None:
        ax.plot(x, y, **line)
    style = {'hu': dict(marker='^', mfc=c_hu, mec='#333', ms=4.3, mew=0.5),
             'ch': dict(marker='s', mfc=c_ch, mec='#333', ms=3.7, mew=0.5),
             'zua': dict(marker='o', mfc=c_zua, mec='#333', ms=3.6, mew=0.5),
             'ov': dict(marker='x', color=c_over, ms=4.0, mew=1.2)}[kind]
    ax.plot(x, y, ls='none', zorder=5, **style)


def curve(ax, series, color, lw=1.3, ls='-', z=3):
    x, y = pts(series)
    ax.plot(x, y, color=color, lw=lw, ls=ls, zorder=z)


dash_hu = dict(color='#a01414', lw=0.9, ls=(0, (4, 3)), zorder=3)
dash_ch = dict(color='#f7a040', lw=0.9, ls=(0, (4, 3)), zorder=3)
dash_zua = dict(color='#a8d04a', lw=0.9, ls=(0, (4, 3)), zorder=3)
solid_ov = dict(color=c_blue, lw=1.2, zorder=3)

# ---------------- header ----------------
hdr = px_axes(70, 6, 660, 23)
hdr.set_xlim(d(-4), d(826))
hdr.set_ylim(0, 1)
hdr.axis('off')
for lab, a, b in years:
    hdr.axvspan(d(a), d(b), color='#cccccc', lw=0)
    hdr.text(d((a + b) / 2), 0.5, lab, ha='center', va='center', fontsize=8.5, color='#333')

# ---------------- rainfall ----------------
ax_r = px_axes(70, 59, 660, 152)
style_main(ax_r)
ax_r.spines['bottom'].set_visible(False)
ax_r.set_ylim(100, 0)
ax_r.set_yticks(range(0, 101, 20))
ax_r.set_yticks(range(10, 100, 20), minor=True)
ax_r.tick_params(axis='x', which='both', direction='out', bottom=False, top=True, labeltop=True, pad=3)
ax_r.tick_params(axis='x', which='major', length=12)
ax_r.tick_params(axis='x', which='minor', length=6)
rx, ry = pts(rain)
ax_r.bar(rx, ry, width=2.2, color='#4a4a4a', zorder=2)
left_label(ax_r, 'Rainfall (mm/day)')
ax_r2 = ax_r.twinx()
ax_r2.set_ylim(28, 0)
ax_r2.set_yticks(range(0, 29, 4))
ax_r2.set_yticks(range(2, 28, 4), minor=True)
ax_r2.tick_params(axis='y', which='both', direction='out', labelsize=8, color='#444', labelcolor='#333')
ax_r2.tick_params(axis='y', which='major', length=4)
ax_r2.tick_params(axis='y', which='minor', length=2)
for s in ax_r2.spines.values():
    s.set_visible(False)
ax_r2.set_ylabel('Rainfall (mm/day)', fontsize=7.5, color='#333')
ax_r2.yaxis.set_label_coords(1.093, 0.5)
for txt, day in [('IW', 15), ('IW', 224), ('LW', 323), ('HW', 592), ('HW', 792)]:
    ax_r.text(d(day), 68, txt, rotation=90, ha='center', va='center', fontsize=8.5, color='#222', zorder=7)

# ---------------- piezometric ----------------
ax_p = px_axes(70, 162, 660, 295)
style_main(ax_p)
ax_p.spines['top'].set_visible(False)
ax_p.tick_params(axis='x', which='both', top=False)
set_y(ax_p, [(643.2, 295), (665.5, 162)], range(645, 666, 5), [v for v in range(644, 666) if v % 5])
left_label(ax_p, 'Piezometric level (m a.s.l.)')
bx, by = pts(blue_piezo)
ax_p.plot(bx, by, color=c_blue, lw=1.1, zorder=2, label='Piezometric level')
curve(ax_p, zua_piezo_line, '#8cc63a', lw=3.8, z=2.5)
mk(ax_p, hu_piezo, 'hu', dash_hu)
mk(ax_p, ch_piezo, 'ch', dash_ch)
mk(ax_p, zua_piezo, 'zua')
ax_p.legend(loc='center left', bbox_to_anchor=((526 - 70) / 590, (295 - 260) / 133), frameon=False,
            fontsize=7, labelcolor='#555', handlelength=1.4, handletextpad=0.5)
piezo_r = [(-15, 294.8), (55, 258.4), (145, 252.8), (305, 162)]
piezo_r_major = [0, 50, 150, 200, 250, 300]
piezo_r_minor = [25, 175, 225, 275]
right_axis(ax_p, piezo_r, piezo_r_major, piezo_r_minor, 'Discharge (l/s)', lx=1.068)
brk_mark(ax_p, 100, 1.012)

# ---------------- EC ----------------
ax_e = px_axes(70, 295, 660, 425)
style_main(ax_e)
set_y(ax_e, [(259, 425), (481, 382), (1531, 376), (1950, 295)], [300, 450, 1650, 1800, 1950],
      [350, 400, 1550, 1600, 1700, 1750, 1850, 1900])
left_label(ax_e, 'EC (µS/cm)')
curve(ax_e, ov_ec_line, c_blue, lw=1.1)
curve(ax_e, hu_ec_line, c_hu_l)
curve(ax_e, ch_ec_line, c_ch_l)
curve(ax_e, zua_ec_line, c_zua_l)
mk(ax_e, hu_ec, 'hu')
mk(ax_e, ch_ec, 'ch')
mk(ax_e, zua_ec, 'zua')
mk(ax_e, ov_ec, 'ov')
ec_r = [(231, 425), (470, 383.5), (1480, 375.4), (1950, 295)]
ec_r_major = [300, 450, 1500, 1650, 1800, 1950]
ec_r_minor = [250, 350, 400, 1550, 1600, 1700, 1750, 1850, 1900]
right_axis(ax_e, ec_r, ec_r_major, ec_r_minor, 'EC (µS/cm)')
brk_mark(ax_e, 1000, -0.012)
brk_mark(ax_e, 1000, 1.012)

# ---------------- temperature ----------------
ax_t = px_axes(70, 425, 660, 557)
style_main(ax_t)
t_anch = [(13.46, 557), (17.23, 425)]
t_major = [14, 15, 16, 17]
t_minor = [13.6, 13.8, 14.2, 14.4, 14.6, 14.8, 15.2, 15.4, 15.6, 15.8, 16.2, 16.4, 16.6, 16.8, 17.2]
set_y(ax_t, t_anch, t_major, t_minor)
left_label(ax_t, 'Temperature (ºC)')
curve(ax_t, ov_t_line, c_blue, lw=1.1)
curve(ax_t, hu_t_line, c_hu_l)
curve(ax_t, ch_t_line, c_ch_l)
mk(ax_t, hu_t, 'hu')
mk(ax_t, ch_t, 'ch')
mk(ax_t, zua_t, 'zua', dict(color='#a8d04a', lw=1.0, ls=':', zorder=3))
mk(ax_t, ov_t, 'ov')
right_axis(ax_t, t_anch, t_major, t_minor, 'Temperature (ºC)')

# ---------------- SO4 ----------------
ax_s = px_axes(70, 557, 660, 686)
style_main(ax_s)
so4_minor = [50, 100, 950, 1000, 1100, 1150, 1250, 1300]
set_y(ax_s, [(-48, 686), (168, 650), (842, 645), (1350, 557)], [0, 150, 900, 1050, 1200, 1350], so4_minor)
left_label(ax_s, 'SO$_4^{2-}$ (mg/l)')
mk(ax_s, hu_so4, 'hu', dash_hu)
mk(ax_s, ch_so4, 'ch', dash_ch)
mk(ax_s, zua_so4, 'zua', dash_zua)
mk(ax_s, ov_so4, 'ov', solid_ov)
so4_r = [(-48, 686), (150, 652), (829, 645), (1350, 557)]
so4_r_major = [0, 150, 900, 1050, 1200]
right_axis(ax_s, so4_r, so4_r_major, so4_minor, 'SO$_4^{2-}$ (mg/l)')
brk_mark(ax_s, 500, -0.012)
brk_mark(ax_s, 500, 1.012)

# ---------------- Mg ----------------
ax_m = px_axes(70, 686, 660, 818)
style_main(ax_m)
mg_anch = [(-2.9, 818), (23, 781.8), (36, 777.6), (101.4, 686)]
mg_major = [0, 20, 40, 60, 80, 100]
mg_minor = [5, 10, 15, 45, 50, 55, 65, 70, 75, 85, 90, 95]
set_y(ax_m, mg_anch, mg_major, mg_minor)
left_label(ax_m, 'Mg$^{2+}$ (mg/l)')
mk(ax_m, hu_mg, 'hu', dash_hu)
mk(ax_m, ch_mg, 'ch', dash_ch)
mk(ax_m, zua_mg, 'zua', dash_zua)
mk(ax_m, ov_mg, 'ov', solid_ov)
right_axis(ax_m, mg_anch, mg_major, mg_minor, 'Mg$^{2+}$ (mg/l)')
brk_mark(ax_m, 30, -0.012)
brk_mark(ax_m, 30, 1.012)

# ---------------- Ca ----------------
ax_c = px_axes(70, 818, 660, 950)
style_main(ax_c)
ca_anch = [(48, 950), (100, 921), (339, 910), (501, 818)]
ca_major = [50, 100, 350, 400, 450]
ca_minor = [60, 70, 80, 90, 360, 370, 380, 390, 410, 420, 430, 440, 460, 470, 480, 490]
set_y(ax_c, ca_anch, ca_major, ca_minor)
left_label(ax_c, 'Ca$^{2+}$ (mg/l)')
ax_c.tick_params(axis='x', which='major', labelbottom=True, pad=9)
mk(ax_c, hu_ca, 'hu', dash_hu)
mk(ax_c, ch_ca, 'ch', dash_ch)
mk(ax_c, zua_ca, 'zua', dash_zua)
mk(ax_c, ov_ca, 'ov', solid_ov)
right_axis(ax_c, ca_anch, ca_major, ca_minor, 'Ca$^{2+}$ (mg/l)')
brk_mark(ax_c, 200, -0.012)
brk_mark(ax_c, 200, 1.012)


# ---------------- box panels ----------------
def box_axes(y0, y1, anchors, majors, minors, stats, positions, x0=740, x1=865, xl=(0.484, 4.516)):
    ax = px_axes(x0, y0, x1, y1)
    set_y(ax, anchors, majors, minors)
    ax.set_xlim(*xl)
    st = [dict(whislo=s[0], q1=s[1], med=s[2], q3=s[3], whishi=s[4], fliers=[]) for s in stats]
    b = ax.bxp(st, positions=positions, widths=0.5, patch_artist=True, showfliers=False, capwidths=0.28,
               boxprops=dict(edgecolor='#666', linewidth=0.8), whiskerprops=dict(color='#555', lw=0.8),
               capprops=dict(color='#555', lw=0.8), medianprops=dict(lw=1.0), manage_ticks=False)
    for patch, p in zip(b['boxes'], positions):
        patch.set_facecolor(box_face[p - 1])
    for m, p in zip(b['medians'], positions):
        m.set_color(box_med[p - 1])
    ax.yaxis.grid(True, which='major', ls=(0, (4, 3)), color='#888', lw=0.7)
    ax.set_axisbelow(True)
    ax.set_xticks([1, 2, 3, 4])
    ax.tick_params(axis='x', which='both', direction='in', top=True, bottom=True, labelbottom=False,
                   length=4, color='#333')
    ax.tick_params(axis='y', which='both', direction='in', labelleft=False, left=True, color='#333')
    ax.tick_params(axis='y', which='major', length=4)
    ax.tick_params(axis='y', which='minor', length=2)
    for s in ax.spines.values():
        s.set_linewidth(1.5)
        s.set_color('#111')
    return ax


# narrow discharge panel (Overflow)
ax_dn = px_axes(740, 162, 770, 295)
ax_dn.set_ylim(0, 22167)
ax_dn.set_xlim(0.5, 1.5)
st = [dict(whislo=box_discharge_over[0], q1=box_discharge_over[1], med=box_discharge_over[2],
           q3=box_discharge_over[3], whishi=box_discharge_over[4], fliers=[])]
bn = ax_dn.bxp(st, positions=[1], widths=0.5, patch_artist=True, showfliers=False, capwidths=0.28,
               boxprops=dict(edgecolor='#666', linewidth=0.8), whiskerprops=dict(color='#555', lw=0.8),
               capprops=dict(color='#555', lw=0.8), medianprops=dict(lw=1.0, color=box_med[0]), manage_ticks=False)
bn['boxes'][0].set_facecolor(box_face[0])
ax_dn.set_yticks([0, 5000, 10000, 15000, 20000])
ax_dn.yaxis.set_major_formatter(FuncFormatter(lambda v, p: f'{v:.1E}'))
ax_dn.tick_params(axis='y', direction='in', labelsize=5, labelcolor='#333', length=3, pad=1.5)
ax_dn.set_xticks([])
for s in ax_dn.spines.values():
    s.set_linewidth(1.5)
    s.set_color('#111')

ax_dw = box_axes(162, 295, piezo_r, piezo_r_major, piezo_r_minor, box_discharge, [2, 3, 4], x0=773,
                 xl=(1.548, 4.516))
ax_dw.tick_params(axis='y', which='major', labelright=True, right=True, direction='in', labelsize=8,
                  labelcolor='#333')
ax_dw.set_xticks([2, 3, 4])
brk_mark(ax_dw, 100, 1.0)

ax_be = box_axes(295, 425, ec_r, ec_r_major, ec_r_minor, box_ec, [1, 2, 3, 4])
brk_mark(ax_be, 1000, -0.025)
ax_bt = box_axes(425, 557, t_anch, t_major, t_minor, box_temp, [1, 2, 3, 4])
ax_bs = box_axes(557, 686, so4_r, so4_r_major, so4_minor, box_so4, [1, 2, 3, 4])
brk_mark(ax_bs, 500, -0.025)
ax_bm = box_axes(686, 818, mg_anch, mg_major, mg_minor, box_mg, [1, 2, 3, 4])
brk_mark(ax_bm, 30, -0.025)
ax_bc = box_axes(818, 950, ca_anch, ca_major, ca_minor, box_ca, [1, 2, 3, 4])
brk_mark(ax_bc, 200, -0.025)
for pos, yv, name in [(1, 378, box_names[0]), (2, 93, box_names[1]), (3, 89, box_names[2]), (4, 352, box_names[3])]:
    ax_bc.text(pos, yv, name, rotation=90, ha='center', va='center', fontsize=7.5, color='#333')

# ---------------- box legend ----------------
ax_lg = px_axes(750, 69, 856, 145)
ax_lg.set_xlim(0, 1)
ax_lg.set_ylim(-0.7, 4.55)
blg = ax_lg.bxp([dict(whislo=0, q1=1, med=2, q3=3, whishi=4, fliers=[])], positions=[0.51], widths=0.16,
                patch_artist=True, showfliers=False, capwidths=0.1,
                boxprops=dict(edgecolor='#777', linewidth=0.8), whiskerprops=dict(color='#555', lw=0.8),
                capprops=dict(color='#555', lw=0.8), medianprops=dict(lw=1.0, color='#666'), manage_ticks=False)
blg['boxes'][0].set_facecolor('#e4e4e4')
ax_lg.set_xticks([])
ax_lg.set_yticks([])
for s in ax_lg.spines.values():
    s.set_color('#888')
    s.set_linewidth(1.0)
ax_lg.text(0.22, 2, 'Spring', ha='center', va='center', fontsize=7.5, color='#333')
for yv, t in [(4, 'max.'), (3, 'P$_{75}$'), (2, 'mean'), (1, 'P$_{25}$'), (0, 'min.')]:
    ax_lg.text(0.63, yv, t, ha='left', va='center', fontsize=5.5, style='italic', color='#444')

# ---------------- legends / annotations ----------------
handles = [Line2D([], [], ls='none', marker='v', ms=5.5, mfc=c_hu, mec='#333', mew=0.5, label='Huertos'),
           Line2D([], [], ls='none', marker='s', ms=4.5, mfc=c_ch, mec='#333', mew=0.5, label='Charco'),
           Line2D([], [], ls='none', marker='o', ms=4.5, mfc=c_zua, mec='#333', mew=0.5, label='La Zúa'),
           Line2D([], [], ls='none', marker='x', ms=4.5, color=c_over, mew=1.2, label='Overflow')]
fig.legend(handles=handles, loc='upper left', bbox_to_anchor=(524 / W, 1 - 110 / H), frameon=True,
           fancybox=False, edgecolor='#666', fontsize=8, handlelength=1.0, handletextpad=0.6,
           borderpad=0.35, labelspacing=0.12, framealpha=1)

fig.text(112 / W, 1 - 141.5 / H, '³H-He sampling', ha='left', va='center', fontsize=7, color='#333',
         bbox=dict(boxstyle='round,pad=0.35,rounding_size=0.6', fc='white', ec='#999', lw=0.8), zorder=8)
fig.add_artist(Line2D([106 / W, 106 / W], [1 - 136 / H, 1 - 147 / H], color='k', lw=1.2, ls=':', zorder=9))
fig.text(521 / W, 1 - 86 / H, 'CFC sampling', ha='left', va='center', fontsize=7, color='#333',
         bbox=dict(boxstyle='round,pad=0.35,rounding_size=0.6', fc='white', ec='#999', lw=0.8), zorder=8)
fig.add_artist(Line2D([514 / W, 514 / W], [1 - 80 / H, 1 - 92 / H], color='#ff1a1a', lw=1.0, ls=':', zorder=9))

fig.savefig('out.png', dpi=100)
